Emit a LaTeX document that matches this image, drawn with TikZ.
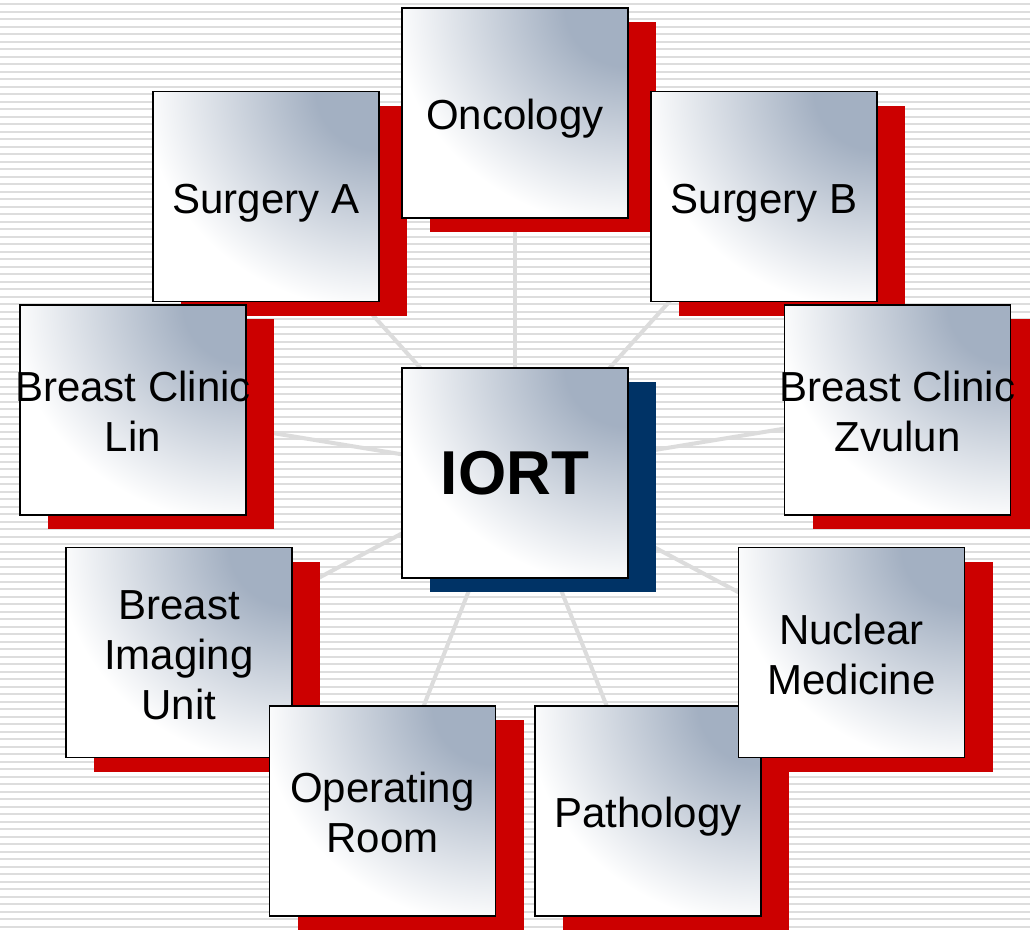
\documentclass[tikz,border=0pt]{standalone}
\usepackage{fontspec}
\setmainfont{Liberation Sans}
\usetikzlibrary{shadows}
\definecolor{stripe}{HTML}{DDDDDD}
\definecolor{link}{HTML}{DCDCDC}
\definecolor{shadowred}{HTML}{CC0000}
\definecolor{shadownavy}{HTML}{003366}
\pgfdeclarefunctionalshading{boxshade}{\pgfpoint{-50bp}{-50bp}}{\pgfpoint{50bp}{50bp}}{}{
  25 exch sub dup mul exch 25 exch sub dup mul add sqrt
  14 sub 38 div
  dup 0 lt {pop 0} if
  dup 1 gt {pop 1} if
  dup dup
  0.24 mul 0.76 add
  exch 0.31 mul 0.69 add
  exch
  3 -1 roll 0.36 mul 0.64 add
  3 1 roll
}
\newcommand{\ppst}{\rule[-0.212em]{0pt}{1.117em}}
\pgfdeclarelayer{stripes}
\pgfdeclarelayer{links}
\pgfsetlayers{stripes,links,main}
\tikzset{
  boxbase/.style={rectangle, draw=black, line width=1.8pt,
    minimum width=226pt, minimum height=210pt, inner sep=0pt,
    shade, shading=boxshade},
  redbox/.style={boxbase, general shadow={fill=shadowred, shadow xshift=28pt, shadow yshift=-14pt}},
  hubbox/.style={boxbase, general shadow={fill=shadownavy, shadow xshift=28pt, shadow yshift=-14pt}},
  lbl/.style={font=\fontsize{42}{50}\selectfont, align=center, inner sep=0pt, yshift=-2pt},
  hublbl/.style={font=\fontsize{62}{70}\selectfont\bfseries, align=center, inner sep=0pt},
  conn/.style={draw=link, line width=4pt}
}
\begin{document}
\begin{tikzpicture}[x=1pt,y=-1pt]
\useasboundingbox (0,0) rectangle (1030,930);
\begin{pgfonlayer}{stripes}
  \fill[white] (0,0) rectangle (1030,930);
  \foreach \i in {0,...,123}{
    \fill[stripe] (0,{3+7.5*\i}) rectangle (1030,{5+7.5*\i});
  }
\end{pgfonlayer}

\node[redbox] (surA) at (266,196.5) {};
\node[lbl] (tsurA) at (surA.center) {\ppst Surgery A};
\node[redbox] (onc) at (515,113) {};
\node[lbl] (tonc) at (onc.center) {\ppst Oncology};
\node[redbox] (surB) at (764,196.5) {};
\node[lbl] (tsurB) at (surB.center) {\ppst Surgery B};
\node[redbox] (lin) at (133,410) {};
\node[lbl] (tlin) at (lin.center) {\ppst Breast Clinic\\\ppst Lin};
\node[redbox] (zvu) at (897.5,410) {};
\node[lbl] (tzvu) at (zvu.center) {\ppst Breast Clinic\\\ppst Zvulun};
\node[hubbox] (iort) at (515,473) {};
\node[hublbl] (tiort) at (iort.center) {\ppst IORT};
\node[redbox] (img) at (179,652.5) {};
\node[lbl] (timg) at (img.center) {\ppst Breast\\\ppst Imaging\\\ppst Unit};
\node[redbox] (opr) at (382.5,811) {};
\node[lbl] (topr) at (opr.center) {\ppst Operating\\\ppst Room};
\node[redbox] (pat) at (648,811) {};
\node[lbl] (tpat) at (pat.center) {\ppst Pathology};
\node[redbox] (nuc) at (851.5,652.5) {};
\node[lbl] (tnuc) at (nuc.center) {\ppst Nuclear\\\ppst Medicine};

\begin{pgfonlayer}{links}
  \foreach \t in {onc,surA,surB,lin,zvu,img,nuc,opr,pat}{
    \draw[conn] (iort.center) -- (\t.center);
  }
\end{pgfonlayer}
\end{tikzpicture}
\end{document}
